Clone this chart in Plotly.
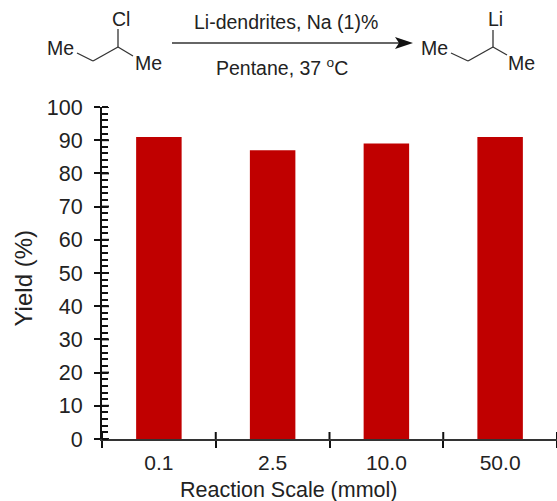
import plotly.graph_objects as go

W, H = 557, 501
ML, MR, MT, MB = 102, 0, 107, 62

categories = ["0.1", "2.5", "10.0", "50.0"]
yields = [91, 87, 89, 91]
y_ticks = list(range(0, 101, 10))

FONT = "Liberation Sans"
INK = "#222222"
BAR = "#C00000"
TICK = "#111111"


def px(x):
    return (x - ML) / (W - ML - MR)


def py(y):
    return 1 - (y - MT) / (H - MT - MB)


fig = go.Figure()
fig.add_trace(go.Bar(x=categories, y=yields, width=0.4, marker=dict(color=BAR, line=dict(width=0)), showlegend=False))

fig.update_layout(
    width=W, height=H, autosize=False, paper_bgcolor="white", plot_bgcolor="white",
    margin=dict(l=ML, r=MR, t=MT, b=MB), bargap=0.6, showlegend=False,
    font=dict(family=FONT, size=21, color=INK),
    xaxis=dict(type="category", categoryorder="array", categoryarray=categories, range=[-0.5, 3.5],
               tickson="boundaries", ticks="outside", ticklen=7, tickwidth=2, tickcolor=TICK,
               showline=True, linecolor="#333333", linewidth=2, showgrid=False,
               ticklabelstandoff=4, tickfont=dict(size=21)),
    yaxis=dict(range=[0, 100], tickvals=y_ticks, ticks="outside", ticklen=6, tickwidth=2, tickcolor=TICK,
               showline=True, linecolor=TICK, linewidth=2, showgrid=False, zeroline=False,
               ticklabelstandoff=7, tickfont=dict(size=21.5),
               minor=dict(dtick=2, ticks="inside", ticklen=6, tickwidth=2, tickcolor=TICK, showgrid=False)),
)

# Inner halves of the axis ticks that cross the axis lines
for i in range(len(categories) + 1):
    b = i - 0.5
    fig.add_shape(type="line", xref="x", yref="y", ysizemode="pixel", yanchor=0, x0=b, x1=b, y0=0, y1=7,
                  line=dict(color=TICK, width=2), layer="above")
for t in y_ticks:
    fig.add_shape(type="line", xref="x", yref="y", xsizemode="pixel", xanchor=-0.5, x0=0, x1=7, y0=t, y1=t,
                  line=dict(color=TICK, width=2), layer="above")

labels = [
    ("Yield (%)", 23, 278.5, 24, -90),
    ("Reaction Scale (mmol)", 288, 490, 21.5, 0),
    ("Li-dendrites, Na (1)%", 285.5, 22, 19.5, 0),
    ("Pentane, 37 <sup>o</sup>C", 282, 67, 19.5, 0),
    ("Cl", 121, 19, 19.5, 0),
    ("Me", 60, 48, 19.5, 0),
    ("Me", 148, 63, 19.5, 0),
    ("Li", 495, 19, 19.5, 0),
    ("Me", 434, 48, 19.5, 0),
    ("Me", 521, 63, 19.5, 0),
]
for text, x, y, size, angle in labels:
    fig.add_annotation(text=text, x=px(x), y=py(y), xref="paper", yref="paper", showarrow=False,
                       xanchor="center", yanchor="middle", textangle=angle, font=dict(size=size, family=FONT, color=INK))

bonds = [
    [(77, 53), (93, 61), (118, 47), (133, 56)],
    [(118, 47), (118, 29)],
    [(451, 53), (468, 61), (493, 47), (507, 55)],
    [(493, 47), (493, 30)],
    [(172, 43), (402, 43)],
]
for chain in bonds:
    for (x0, y0), (x1, y1) in zip(chain, chain[1:]):
        fig.add_shape(type="line", xref="paper", yref="paper", x0=px(x0), y0=py(y0), x1=px(x1), y1=py(y1),
                      line=dict(color="#333333", width=1.3))

head = [(413, 43), (395, 37), (399, 43), (395, 49)]
path = "M " + " L ".join(f"{px(x):.5f},{py(y):.5f}" for x, y in head) + " Z"
fig.add_shape(type="path", xref="paper", yref="paper", path=path, fillcolor="#111111", line=dict(width=0))

fig.write_html("out.html", post_script="document.body.style.margin='0';", config={"displayModeBar": False})
